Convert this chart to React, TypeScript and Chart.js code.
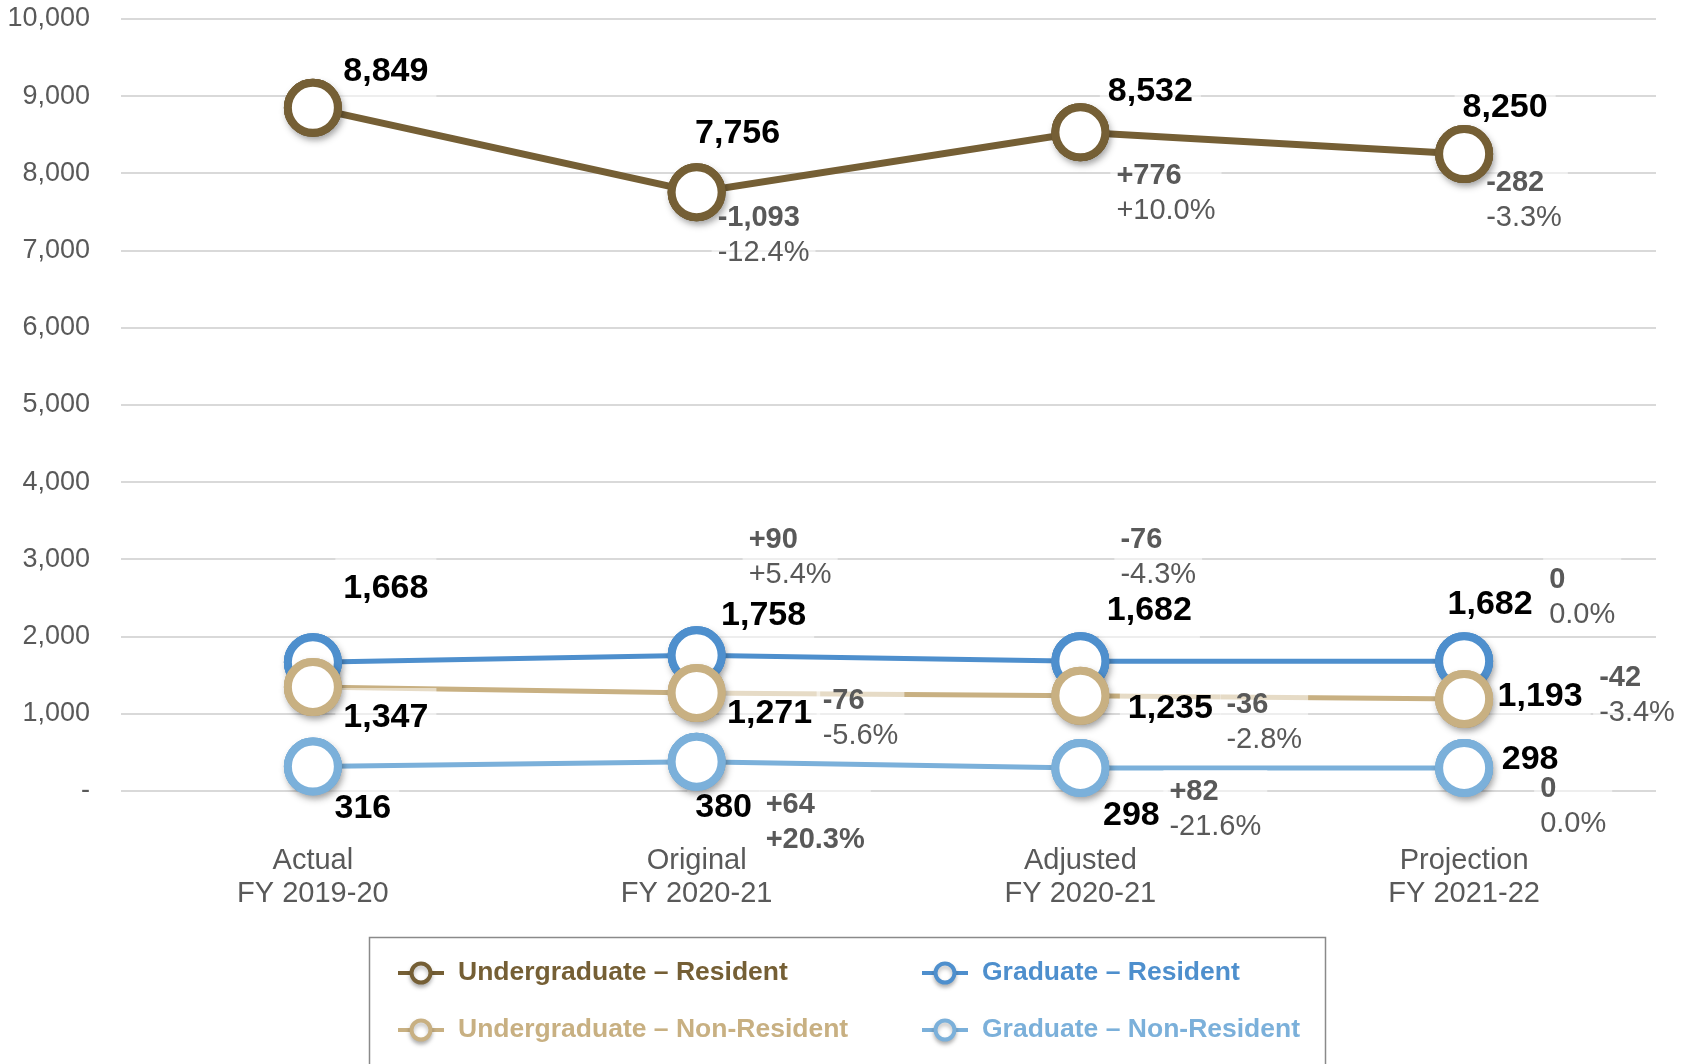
import React, { useEffect, useRef } from "react";
import { Chart, registerables } from "chart.js";

Chart.register(...registerables);

const FONT = "'Liberation Sans', Arial, Helvetica, sans-serif";

// ---------------- data ----------------
const categories = [
  ["Actual", "FY 2019-20"],
  ["Original", "FY 2020-21"],
  ["Adjusted", "FY 2020-21"],
  ["Projection", "FY 2021-22"],
];

const seriesNames = [
  "Undergraduate – Resident",
  "Graduate – Resident",
  "Undergraduate – Non-Resident",
  "Graduate – Non-Resident",
];

const undergradResident = [8849, 7756, 8532, 8250];
const gradResident = [1668, 1758, 1682, 1682];
const undergradNonResident = [1347, 1271, 1235, 1193];
const gradNonResident = [316, 380, 298, 298];

// change annotations (as printed on the chart)
const changeUndergradResident = [null, ["-1,093", "-12.4%"], ["+776", "+10.0%"], ["-282", "-3.3%"]];
const changeGradResident = [null, ["+90", "+5.4%"], ["-76", "-4.3%"], ["0", "0.0%"]];
const changeUndergradNonResident = [null, ["-76", "-5.6%"], ["-36", "-2.8%"], ["-42", "-3.4%"]];
const changeGradNonResident = [null, ["+64", "+20.3%"], ["+82", "-21.6%"], ["0", "0.0%"]];
const boldPercentGradNonResident = [false, true, false, false];

const yMin = 0;
const yMax = 10000;
const yStep = 1000;

// ---------------- styles / layout ----------------
const colors = ["#755F35", "#4E8FCD", "#C8B082", "#7BB0DA"];
const lineWidths = [7, 5, 5, 5];
const drawOrder = [0, 2, 1, 3];
const VALUE_FONT = 34;
const CHANGE_FONT = 29;

// label offsets relative to each point (px)
const valueOffsets = [
  [[73, -36], [41, -59], [70, -41], [41, -46]],
  [[73, -74], [67, -40], [69, -51], [26, -57]],
  [[73, 31], [73, 21], [90, 13], [76, -2]],
  [[50, 42], [27, 46], [51, 48], [66, -8]],
];
const changeOffsets = [
  [null, [21, 26], [36, 44], [22, 29]],
  [null, [52, -115], [40, -121], [85, -81]],
  [null, [126, 8], [146, 9], [135, -21]],
  [null, [69, 43], [89, 24], [76, 21]],
];

const changes = [changeUndergradResident, changeGradResident, changeUndergradNonResident, changeGradNonResident];
const seriesValues = [undergradResident, gradResident, undergradNonResident, gradNonResident];

const fmt = (v: number) => v.toLocaleString("en-US");

const labelsPlugin = {
  id: "valueLabels",
  afterDatasetsDraw(chart: any) {
    const ctx = chart.ctx;
    ctx.save();
    const items: any[] = [];
    seriesValues.forEach((vals, i) => {
      const meta = chart.getDatasetMeta(i);
      meta.data.forEach((pt: any, j: number) => {
        const [dx, dy] = valueOffsets[i][j];
        items.push({ kind: "value", text: fmt(vals[j]), x: pt.x + dx, y: pt.y + dy });
        const ch = changes[i][j];
        const co = changeOffsets[i][j];
        if (ch && co) {
          const pctBold = i === 3 ? boldPercentGradNonResident[j] : false;
          items.push({ kind: "change", lines: ch, x: pt.x + co[0], y: pt.y + co[1], pctBold });
        }
      });
    });
    // semi-transparent label boxes (lighten lines/gridlines behind labels)
    ctx.fillStyle = "rgba(255,255,255,0.55)";
    items.forEach((it) => {
      if (it.kind === "value") {
        ctx.font = `bold ${VALUE_FONT}px ${FONT}`;
        const w = ctx.measureText(it.text).width;
        ctx.fillRect(it.x - w / 2 - 8, it.y - 30, w + 16, 60);
      } else {
        ctx.font = `bold ${CHANGE_FONT}px ${FONT}`;
        const w1 = ctx.measureText(it.lines[0]).width;
        ctx.font = `${it.pctBold ? "bold " : ""}${CHANGE_FONT}px ${FONT}`;
        const w2 = ctx.measureText(it.lines[1]).width;
        ctx.fillRect(it.x - 6, it.y - 22, Math.max(w1, w2) + 12, 35 + 42);
      }
    });
    // redraw the markers on top of the label boxes, with a soft shadow
    const metas = chart.getSortedVisibleDatasetMetas().slice().reverse();
    metas.forEach((meta: any) => {
      meta.data.forEach((pt: any) => {
        ctx.save();
        ctx.shadowColor = "rgba(0,0,0,0.28)";
        ctx.shadowBlur = 7;
        ctx.shadowOffsetX = 2;
        ctx.shadowOffsetY = 4;
        pt.draw(ctx, chart.chartArea);
        ctx.restore();
        pt.draw(ctx, chart.chartArea);
      });
    });
    ctx.textBaseline = "middle";
    items.forEach((it) => {
      if (it.kind === "value") {
        ctx.font = `bold ${VALUE_FONT}px ${FONT}`;
        ctx.fillStyle = "#000000";
        ctx.textAlign = "center";
        ctx.fillText(it.text, it.x, it.y);
      } else {
        ctx.textAlign = "left";
        ctx.fillStyle = "#595959";
        ctx.font = `bold ${CHANGE_FONT}px ${FONT}`;
        ctx.fillText(it.lines[0], it.x, it.y);
        ctx.font = `${it.pctBold ? "bold " : ""}${CHANGE_FONT}px ${FONT}`;
        ctx.fillText(it.lines[1], it.x, it.y + 35);
      }
    });
    ctx.restore();
  },
};

const legendPlugin = {
  id: "boxLegend",
  afterDraw(chart: any) {
    const ctx = chart.ctx;
    ctx.save();
    ctx.strokeStyle = "#8a8a8a";
    ctx.lineWidth = 1.5;
    ctx.strokeRect(369.5, 937.5, 956, 200);
    const cols = [421, 945];
    const rows = [973, 1030];
    chart.data.datasets.forEach((ds: any, i: number) => {
      const cx = cols[i % 2];
      const cy = rows[Math.floor(i / 2)];
      ctx.strokeStyle = ds.borderColor;
      ctx.lineWidth = 4;
      ctx.beginPath();
      ctx.moveTo(cx - 23, cy);
      ctx.lineTo(cx + 23, cy);
      ctx.stroke();
      ctx.save();
      ctx.shadowColor = "rgba(0,0,0,0.25)";
      ctx.shadowBlur = 4;
      ctx.shadowOffsetY = 3;
      ctx.beginPath();
      ctx.arc(cx, cy, 9.5, 0, Math.PI * 2);
      ctx.fillStyle = "#ffffff";
      ctx.fill();
      ctx.lineWidth = 4;
      ctx.stroke();
      ctx.restore();
      ctx.fillStyle = ds.borderColor;
      ctx.font = `bold 26.5px ${FONT}`;
      ctx.textAlign = "left";
      ctx.textBaseline = "middle";
      ctx.fillText(ds.label, cx + 37, cy);
    });
    ctx.restore();
  },
};

export default function App() {
  const canvasRef = useRef<HTMLCanvasElement | null>(null);

  useEffect(() => {
    document.body.style.margin = "0";
    const canvas = canvasRef.current;
    if (!canvas) return;
    Chart.defaults.font.family = FONT;

    const datasets = seriesValues.map((vals, i) => ({
      label: seriesNames[i],
      data: vals,
      borderColor: colors[i],
      backgroundColor: colors[i],
      borderWidth: lineWidths[i],
      pointRadius: 25,
      pointHoverRadius: 25,
      pointBorderWidth: 8,
      pointHoverBorderWidth: 8,
      pointBackgroundColor: "#ffffff",
      pointBorderColor: colors[i],
      tension: 0,
      order: drawOrder[i],
    }));

    const chart = new Chart(canvas, {
      type: "line",
      data: { labels: categories, datasets },
      options: {
        animation: false,
        responsive: false,
        maintainAspectRatio: false,
        layout: { autoPadding: false, padding: { top: 19, right: 36, left: 0, bottom: 0 } },
        plugins: {
          legend: { display: false },
          tooltip: { enabled: false },
        },
        scales: {
          x: {
            offset: true,
            grid: { display: false, drawTicks: false },
            border: { display: false },
            ticks: {
              color: "#595959",
              font: { family: FONT, size: 29, lineHeight: 1.16 },
              padding: 53,
              maxRotation: 0,
              autoSkip: false,
            },
            afterFit: (s: any) => {
              s.height = 273;
              s.paddingLeft = 0;
              s.paddingRight = 0;
            },
          },
          y: {
            min: yMin,
            max: yMax,
            ticks: {
              stepSize: yStep,
              color: "#595959",
              font: { family: FONT, size: 27 },
              padding: 31,
              callback: (v: any) => (Number(v) === 0 ? "-" : fmt(Number(v))),
            },
            grid: { color: "#d9d9d9", lineWidth: 2, drawTicks: false },
            border: { display: false },
            afterFit: (s: any) => {
              s.width = 121;
              s.paddingTop = 0;
              s.paddingBottom = 0;
            },
          },
        },
      },
      plugins: [labelsPlugin, legendPlugin],
    });
    return () => chart.destroy();
  }, []);

  return (
    <div style={{ width: 1692, height: 1064, background: "#ffffff" }}>
      <canvas ref={canvasRef} width={1692} height={1064} style={{ display: "block" }} />
    </div>
  );
}
